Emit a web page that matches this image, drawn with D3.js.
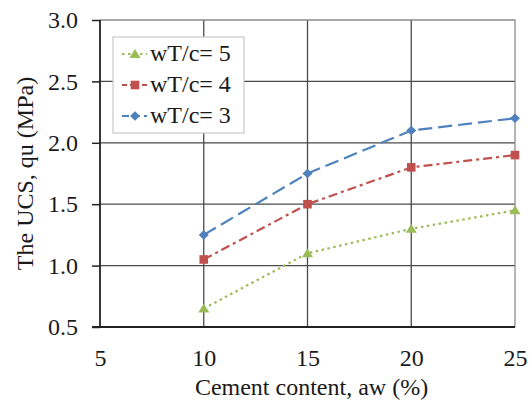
<!DOCTYPE html>
<html>
<head>
<meta charset="utf-8">
<script src="https://cdn.jsdelivr.net/npm/d3@7"></script>
<style>
  html, body { margin: 0; padding: 0; background: #fff; }
  svg { display: block; font-family: "Liberation Serif", "Times New Roman", serif; }
</style>
</head>
<body>
<svg id="chart" width="529" height="404"></svg>
<script>
// Cement content (%) on the x axis
const cementContent = [10, 15, 20, 25];
// UCS values (MPa) for each water/cement ratio
const ucsW5 = [0.65, 1.1, 1.3, 1.45];
const ucsW4 = [1.05, 1.5, 1.8, 1.9];
const ucsW3 = [1.25, 1.75, 2.1, 2.2];
const seriesNames = ["wT/c= 5", "wT/c= 4", "wT/c= 3"];
const xTicks = [5, 10, 15, 20, 25];
const yTicks = [0.5, 1.0, 1.5, 2.0, 2.5, 3.0];

const series = [
  { name: seriesNames[0], values: ucsW5, color: "#9BBB59", dash: "2.5,3.5", legendDash: "2.5,3.5", marker: "triangle" },
  { name: seriesNames[1], values: ucsW4, color: "#C0504D", dash: "9,4,3,4", legendDash: "5,3,9,3", marker: "square" },
  { name: seriesNames[2], values: ucsW3, color: "#4F81BD", dash: "14,6", legendDash: "7,4", marker: "diamond" }
];

const svg = d3.select("#chart");
const margin = { left: 100, top: 20, right: 14, bottom: 77 };
const W = 529, H = 404;
const x = d3.scaleLinear().domain([5, 25]).range([margin.left, W - margin.right]);
const y = d3.scaleLinear().domain([0.5, 3.0]).range([H - margin.bottom, margin.top]);

// Gridlines
const grid = svg.append("g");
grid.selectAll("line.v").data(xTicks.slice(1, -1)).join("line")
  .attr("x1", d => x(d)).attr("x2", d => x(d))
  .attr("y1", y(3.0)).attr("y2", y(0.5))
  .attr("stroke", "#4a4a4a").attr("stroke-width", 1.3);
grid.selectAll("line.h").data(yTicks.slice(1, -1)).join("line")
  .attr("x1", x(5)).attr("x2", x(25))
  .attr("y1", d => y(d)).attr("y2", d => y(d))
  .attr("stroke", "#4a4a4a").attr("stroke-width", 1.3);
// Top and right frame
svg.append("path")
  .attr("d", `M${x(5)},${y(3.0)}H${x(25)}V${y(0.5)}`)
  .attr("fill", "none").attr("stroke", "#8c8c8c").attr("stroke-width", 1.3);

// Axes
const yAxis = svg.append("g").attr("transform", `translate(${x(5)},0)`)
  .call(d3.axisLeft(y).tickValues(yTicks).tickSize(8).tickPadding(14).tickFormat(d3.format(".1f")));
const xAxis = svg.append("g").attr("transform", `translate(0,${y(0.5)})`)
  .call(d3.axisBottom(x).tickValues(xTicks).tickSize(0).tickPadding(22).tickFormat(d3.format("d")));
[yAxis, xAxis].forEach(a => {
  a.select(".domain").attr("stroke", "#222").attr("stroke-width", 1.8);
  a.selectAll(".tick line").attr("stroke", "#222").attr("stroke-width", 1.5);
  a.selectAll("text").attr("font-size", 24).attr("fill", "#1a1a1a")
    .attr("font-family", "Liberation Serif, Times New Roman, serif");
});
yAxis.select(".domain").attr("d", `M0,${y(3.0)}V${y(0.5)}`);
xAxis.select(".domain").attr("d", `M${x(5) - 8},0H${x(25)}`);

// Axis titles
svg.append("text")
  .attr("transform", `translate(33,${(y(0.5) + y(3.0)) / 2}) rotate(-90)`)
  .attr("text-anchor", "middle").attr("font-size", 24).attr("fill", "#1a1a1a")
  .text("The UCS, qu (MPa)");
svg.append("text")
  .attr("x", (x(5) + x(25)) / 2 + 4).attr("y", 395)
  .attr("text-anchor", "middle").attr("font-size", 24).attr("fill", "#1a1a1a")
  .text("Cement content, aw (%)");

// Marker shapes
function markerPath(type) {
  if (type === "triangle") return "M0,-5L5.5,4L-5.5,4Z";
  if (type === "square") return "M-4.3,-4.3H4.3V4.3H-4.3Z";
  return "M0,-4.8L5,0L0,4.8L-5,0Z";
}

const line = d3.line().x((d, i) => x(cementContent[i])).y(d => y(d));

series.forEach(s => {
  const g = svg.append("g");
  g.append("path").datum(s.values)
    .attr("d", line).attr("fill", "none")
    .attr("stroke", s.color).attr("stroke-width", 2.2)
    .attr("stroke-dasharray", s.dash);
  g.selectAll("path.mk").data(s.values).join("path")
    .attr("class", "mk")
    .attr("d", markerPath(s.marker))
    .attr("transform", (d, i) => `translate(${x(cementContent[i])},${y(d)})`)
    .attr("fill", s.color);
});

// Legend
const legend = svg.append("g");
legend.append("rect")
  .attr("x", 113).attr("y", 37).attr("width", 131).attr("height", 96)
  .attr("fill", "#fff").attr("stroke", "#c8c8c8").attr("stroke-width", 1.2);
series.forEach((s, i) => {
  const cy = 54 + i * 31;
  legend.append("line")
    .attr("x1", 122).attr("x2", 147).attr("y1", cy).attr("y2", cy)
    .attr("stroke", s.color).attr("stroke-width", 2.2).attr("stroke-dasharray", s.legendDash);
  legend.append("path").attr("d", markerPath(s.marker))
    .attr("transform", `translate(135,${cy})`).attr("fill", s.color);
  legend.append("text")
    .attr("x", 150).attr("y", cy + 7).attr("font-size", 24).attr("fill", "#1a1a1a")
    .text(s.name);
});
</script>
</body>
</html>
